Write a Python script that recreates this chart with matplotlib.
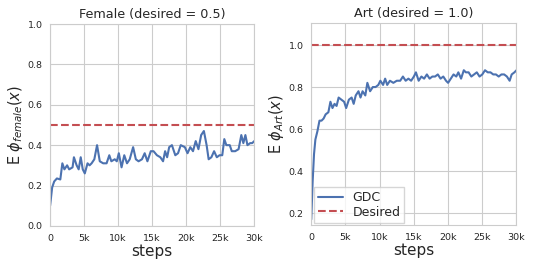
import numpy as np
import matplotlib
matplotlib.use("Agg")
import matplotlib.pyplot as plt
import seaborn as sns

sns.set_style("whitegrid")
plt.rcParams['font.family'] = ['DejaVu Sans']

# Female run (desired = 0.5), steps in thousands
female_steps = [0, 0.3, 0.6, 1.0, 1.5, 1.8, 2.1, 2.5, 2.8, 3.3, 3.5, 3.9, 4.2, 4.5, 4.8,
                5.1, 5.5, 5.8, 6.1, 6.5, 6.9, 7.3, 7.8, 8.3, 8.7, 9.0, 9.5, 9.8, 10.1,
                10.5, 10.9, 11.3, 11.7, 12.2, 12.6, 13.0, 13.5, 13.9, 14.3, 14.8, 15.2,
                15.7, 16.2, 16.6, 16.9, 17.2, 17.5, 17.9, 18.4, 18.8, 19.2, 19.8, 20.2,
                20.6, 21.0, 21.4, 21.8, 22.2, 22.6, 23.0, 23.3, 23.7, 24.1, 24.5, 24.9,
                25.3, 25.6, 25.9, 26.4, 26.7, 27.2, 27.7, 28.1, 28.4, 28.7, 29.0, 29.4,
                29.7, 30.0]
female_vals = [0.10, 0.19, 0.22, 0.235, 0.23, 0.31, 0.28, 0.30, 0.28, 0.29, 0.34, 0.30,
               0.28, 0.34, 0.28, 0.26, 0.31, 0.30, 0.31, 0.33, 0.40, 0.32, 0.31, 0.31,
               0.35, 0.32, 0.33, 0.32, 0.36, 0.29, 0.35, 0.31, 0.33, 0.39, 0.33, 0.32,
               0.33, 0.36, 0.32, 0.37, 0.37, 0.35, 0.34, 0.32, 0.37, 0.34, 0.39, 0.40,
               0.35, 0.36, 0.40, 0.39, 0.36, 0.39, 0.37, 0.42, 0.38, 0.45, 0.47, 0.40,
               0.33, 0.34, 0.37, 0.34, 0.35, 0.35, 0.43, 0.40, 0.40, 0.37, 0.37, 0.38,
               0.45, 0.41, 0.45, 0.40, 0.41, 0.41, 0.42]

# Art run (desired = 1.0)
art_steps = [0, 0.2, 0.4, 0.6, 0.9, 1.2, 1.5, 1.8, 2.1, 2.5, 2.8, 3.1, 3.4, 3.7, 4.0,
             4.4, 4.8, 5.1, 5.5, 5.9, 6.2, 6.5, 6.9, 7.2, 7.5, 7.9, 8.2, 8.6, 9.0, 9.4,
             9.8, 10.1, 10.5, 10.8, 11.1, 11.5, 12.0, 12.5, 13.0, 13.4, 13.8, 14.2,
             14.6, 15.0, 15.3, 15.7, 16.1, 16.5, 16.9, 17.3, 17.7, 18.1, 18.5, 18.9,
             19.3, 19.7, 20.0, 20.4, 20.8, 21.2, 21.5, 21.9, 22.3, 22.6, 23.0, 23.4,
             23.8, 24.2, 24.6, 25.0, 25.4, 25.8, 26.2, 26.6, 27.0, 27.4, 27.8, 28.2,
             28.6, 29.0, 29.3, 29.7, 30.0]
art_vals = [0.17, 0.35, 0.48, 0.55, 0.59, 0.64, 0.64, 0.65, 0.67, 0.68, 0.73, 0.70,
            0.72, 0.71, 0.75, 0.74, 0.73, 0.70, 0.74, 0.75, 0.72, 0.76, 0.78, 0.75,
            0.78, 0.76, 0.82, 0.78, 0.80, 0.80, 0.81, 0.83, 0.81, 0.84, 0.81, 0.83,
            0.82, 0.83, 0.83, 0.85, 0.83, 0.84, 0.83, 0.85, 0.87, 0.83, 0.85, 0.84,
            0.86, 0.84, 0.85, 0.85, 0.86, 0.84, 0.85, 0.83, 0.82, 0.84, 0.86, 0.85,
            0.87, 0.84, 0.88, 0.87, 0.87, 0.85, 0.86, 0.87, 0.85, 0.86, 0.88, 0.87,
            0.87, 0.86, 0.86, 0.85, 0.86, 0.86, 0.85, 0.83, 0.86, 0.87, 0.88]

xticks = [0, 5, 10, 15, 20, 25, 30]
xticklabels = ['0', '5k', '10k', '15k', '20k', '25k', '30k']

blue = '#4c72b0'
red = '#c44e52'

fig = plt.figure(figsize=(5.33, 2.67), dpi=100)
ax1 = fig.add_axes([0.094, 0.154, 0.383, 0.756])
ax2 = fig.add_axes([0.584, 0.157, 0.385, 0.757])

ax1.plot(np.array(female_steps), female_vals, color=blue, lw=1.5)
ax1.axhline(0.5, color=red, ls='--', lw=1.5)
ax1.set_ylim(0, 1.0)
ax1.set_yticks([0.0, 0.2, 0.4, 0.6, 0.8, 1.0])
ax1.set_title('Female (desired = 0.5)', fontsize=9.2, pad=4)
ax1.set_ylabel(r'E $\phi_{female}(x)$', fontsize=10.5, labelpad=2)

ax2.plot(np.array(art_steps), art_vals, color=blue, lw=1.5, label='GDC')
ax2.axhline(1.0, color=red, ls='--', lw=1.5, label='Desired')
ax2.set_ylim(0.143, 1.105)
ax2.set_yticks([0.2, 0.4, 0.6, 0.8, 1.0])
ax2.set_title('Art (desired = 1.0)', fontsize=9.2, pad=4)
ax2.set_ylabel(r'E $\phi_{Art}(x)$', fontsize=10.5, labelpad=2)
leg = ax2.legend(loc='lower left', fontsize=9, borderpad=0.3, labelspacing=0.15,
                 handlelength=2.0, borderaxespad=0.2, fancybox=False)

for ax in (ax1, ax2):
    ax.set_xlim(0, 30)
    ax.set_xticks(xticks)
    ax.set_xticklabels(xticklabels)
    ax.tick_params(labelsize=6.8, pad=2)
    ax.set_xlabel('steps', fontsize=11, labelpad=1)

fig.savefig('out.png', dpi=100)
